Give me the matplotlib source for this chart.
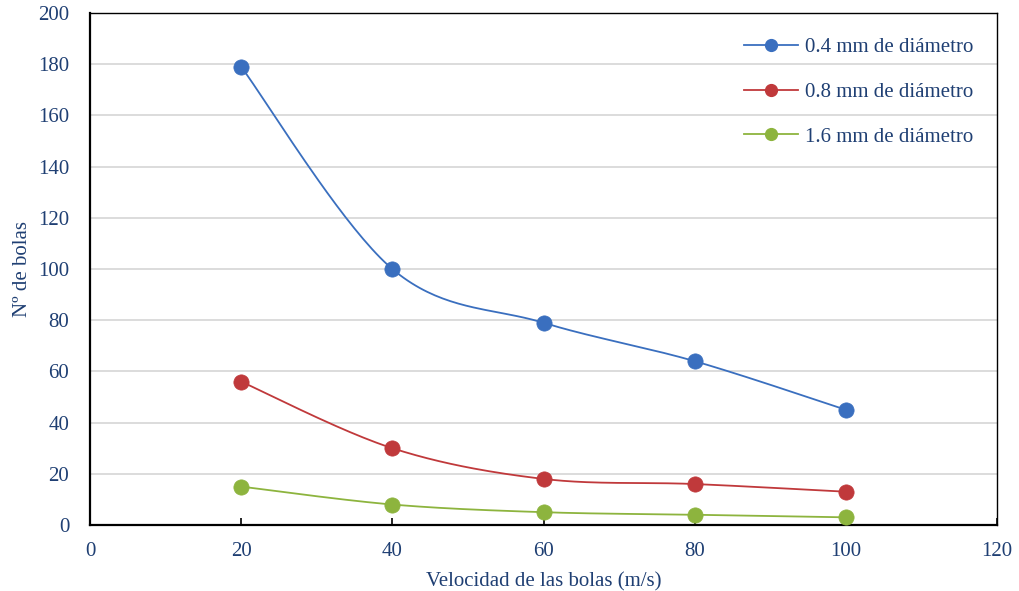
import numpy as np
import matplotlib
matplotlib.use("Agg")
import matplotlib.pyplot as plt
from matplotlib.lines import Line2D

velocities = [20, 40, 60, 80, 100]
series_labels = ["0.4 mm de diámetro", "0.8 mm de diámetro", "1.6 mm de diámetro"]
balls_04 = [179, 100, 79, 64, 45]
balls_08 = [56, 30, 18, 16, 13]
balls_16 = [15, 8, 5, 4, 3]
colors = ["#3A6FBF", "#C0393B", "#8DB43E"]
x_ticks = [0, 20, 40, 60, 80, 100, 120]
y_ticks = [0, 20, 40, 60, 80, 100, 120, 140, 160, 180, 200]

text_color = "#1F3F73"
plt.rcParams['font.family'] = ['Liberation Serif', 'DejaVu Serif']

fig = plt.figure(figsize=(10.19, 5.91), dpi=100)
ax = fig.add_axes([90/1019, 1 - 525/591, (997-90)/1019, (525-13)/591])


def smooth(xs, ys, sx, sy, n=40):
    # Catmull-Rom spline computed in scaled (display-like) coordinates
    P = np.column_stack([np.array(xs, float) * sx, np.array(ys, float) * sy])
    pts = np.vstack([P[0], P, P[-1]])
    out = []
    t = np.linspace(0, 1, n)[:, None]
    for i in range(1, len(pts) - 2):
        p0, p1, p2, p3 = pts[i-1], pts[i], pts[i+1], pts[i+2]
        c1 = p1 + (p2 - p0) / 6.0
        c2 = p2 - (p3 - p1) / 6.0
        seg = ((1-t)**3) * p1 + 3*((1-t)**2)*t*c1 + 3*(1-t)*t**2*c2 + t**3*p2
        out.append(seg if i == 1 else seg[1:])
    out = np.vstack(out)
    return out[:, 0] / sx, out[:, 1] / sy

sx = 907 / 120.0
sy = 512 / 200.0
handles = []
for ys, c, lab in zip([balls_04, balls_08, balls_16], colors, series_labels):
    xs_s, ys_s = smooth(velocities, ys, sx, sy)
    ax.plot(xs_s, ys_s, color=c, lw=1.3, zorder=3)
    ax.plot(velocities, ys, 'o', color=c, markersize=11, zorder=4,
            markeredgecolor=c, markeredgewidth=0.5)
    handles.append(Line2D([0], [0], color=c, lw=1.3, marker='o', markersize=8.5, label=lab))

ax.set_xlim(0, 120)
ax.set_ylim(0, 200)
ax.set_xticks(x_ticks)
ax.set_yticks(y_ticks)
ax.yaxis.grid(True, color="#D9D9D9", lw=1.3)
ax.set_axisbelow(True)
ax.tick_params(axis='x', direction='in', length=5, width=1.2, colors='black',
               labelcolor=text_color, labelsize=15, pad=12)
ax.tick_params(axis='y', length=0, labelcolor=text_color, labelsize=15, pad=15)
for s in ax.spines.values():
    s.set_color('black')
ax.spines['left'].set_linewidth(1.6)
ax.spines['bottom'].set_linewidth(1.6)
ax.spines['top'].set_linewidth(1.0)
ax.spines['right'].set_linewidth(1.0)

ax.set_xlabel("Velocidad de las bolas (m/s)", color=text_color, fontsize=15, labelpad=8)
ax.set_ylabel("Nº de bolas", color=text_color, fontsize=15, labelpad=4)

leg = ax.legend(handles=handles, loc='upper right', frameon=False, fontsize=15,
                labelcolor=text_color, handlelength=2.6, labelspacing=1.2,
                bbox_to_anchor=(0.995, 0.988), handletextpad=0.35)

fig.savefig("out.png", dpi=100)
